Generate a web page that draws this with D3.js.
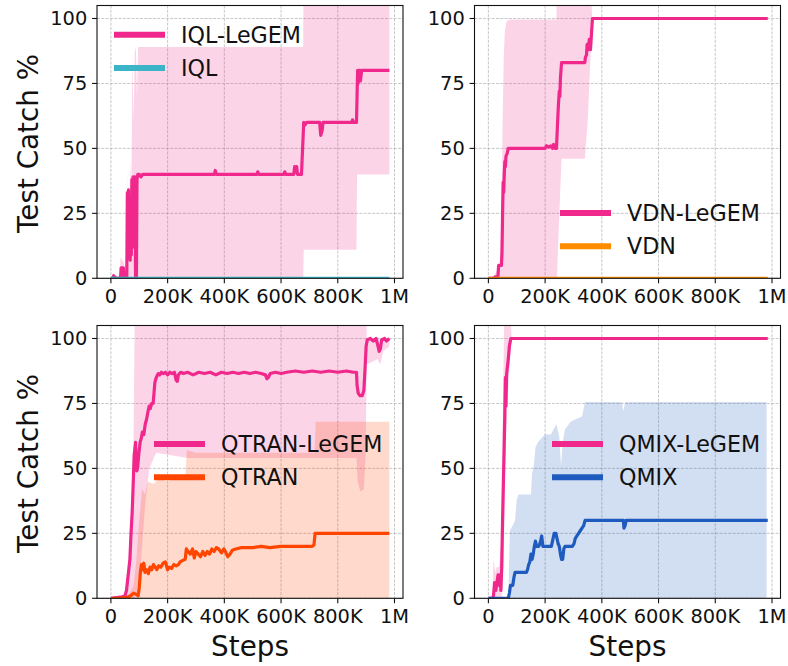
<!DOCTYPE html>
<html>
<head>
<meta charset="utf-8">
<script src="https://cdn.jsdelivr.net/npm/d3@7"></script>
<style>
  html, body { margin: 0; padding: 0; background: #fff; }
  svg { display: block; font-family: "DejaVu Sans", sans-serif; }
</style>
</head>
<body>
<svg id="chart" width="788" height="666"></svg>
<script>
// Test catch % vs. training steps, four methods with/without LeGEM.
// Steps are in thousands. Bands are [step, lower, upper].

const xTicks = [0, 200, 400, 600, 800, 1000];
const xTickLabels = ["0", "200K", "400K", "600K", "800K", "1M"];
const yTicks = [0, 25, 50, 75, 100];

// ---- IQL ----
const iqlLegemMean = [[0,0],[8,0],[10,1],[14,0.5],[18,0],[34,0],[36,4],[44,4],[46,0],[56,0],[58,33],[60,8],[62,34],[64,10],[66,30],[68,7],[70,28],[72,9],[74,38],[76,12],[78,39],[80,15],[82,39],[85,39],[87,0],[90,0],[92,38],[95,40],[100,40],[106,39],[112,40],[200,40],[365,40],[368,41.5],[372,40],[515,40],[518,41],[522,40],[610,40],[613,41],[617,40],[645,40],[648,43],[652,41],[655,43],[658,40],[672,40],[676,50],[680,60],[684,59],[690,60],[736,60],[740,55],[745,57],[748,60],[850,60],[852,61],[856,60],[866,60],[868,70],[870,80],[872,75],[874,80],[876,77],[878,80],[880,76],[884,80],[982,80]];
const iqlLegemBand = [[0,0,0.5],[8,0,2],[12,0,1],[30,0,1],[34,0,8],[46,0,6],[50,0,2],[56,0,10],[60,0,40],[64,0,20],[68,0,45],[72,0,30],[76,0,87],[80,0,60],[84,0,87],[88,0,89],[92,0,70],[96,0,89],[100,0,89],[678,0,89],[680,11,130],[866,11,130],[868,40,130],[982,40,130]];
const iqlMean = [[0,0.5],[4,0],[982,0]];

// ---- VDN ----
const vdnLegemMean = [[0,0],[20,0],[24,0.6],[30,0.5],[34,1],[36,5],[46,5],[48,10],[50,25],[52,37],[54,33],[56,40],[58,45],[60,43],[62,47],[66,48],[70,50],[76,50],[140,50],[200,50],[205,51],[212,50.5],[220,51],[226,50],[230,51.5],[235,50],[240,50],[244,60],[247,67],[250,72],[252,70],[254,77],[256,80],[258,83],[340,83],[342,85],[346,86],[348,90],[352,88],[356,92],[360,88],[364,95],[367,100],[985,100]];
const vdnLegemBand = [[0,0,0],[20,0,1],[30,0,3],[40,0,6],[46,0,20],[50,0,60],[54,0,85],[58,0,95],[64,0,99],[76,0,99.6],[240,0,99.6],[242,0,130],[245,10,130],[252,30,130],[258,46,130],[340,46,130],[350,60,130],[360,85,115],[366,100,100],[985,100,100]];
const vdnMean = [[0,0],[985,0]];

// ---- QTRAN ----
const qtranLegemMean = [[0,0],[20,0.3],[40,0.6],[50,1],[55,3],[60,8],[64,12],[67,15],[71,25],[75,33],[79,45],[82,55],[85,58],[87,60],[89,52],[91,49],[94,50],[98,55],[103,60],[108,62],[111,64],[116,63],[121,67],[126,69],[131,72],[135,74],[139,73],[144,75],[149,75],[152,79],[155,83],[160,85],[167,86.5],[172,86],[178,87],[185,86.5],[192,87],[200,86],[208,87],[216,86.5],[224,87],[230,84],[234,83.5],[238,86],[246,87],[256,86.5],[270,87],[290,86],[310,87],[330,86.5],[350,87],[370,86],[390,87],[410,86.5],[430,87],[450,86.5],[470,87],[490,86.5],[510,87],[530,86.5],[545,86],[550,84.5],[555,85],[562,86.5],[580,87],[600,86.5],[620,87],[650,87.5],[680,87],[710,87.5],[740,87],[770,87.5],[800,87],[830,87.5],[855,87],[866,87],[868,82],[872,79],[878,78],[886,78],[892,80],[896,88],[900,97],[904,99.5],[915,100],[925,99],[935,100],[942,97],[946,95],[950,96],[955,99.5],[965,100],[972,99],[982,100]];
const qtranLegemBand = [[0,0,0],[40,0,1],[55,0,4],[70,0,15],[78,0,40],[84,0,110],[100,5,130],[110,20,130],[120,35,130],[135,50,130],[160,56,130],[270,54,130],[500,54,130],[866,54,130],[870,45,130],[880,41,130],[892,42,130],[898,55,130],[902,90,100],[940,92,100],[950,90,100],[960,95,100],[982,97,100]];
const qtranMean = [[0,0],[30,0],[60,0.5],[70,1],[80,2],[90,1.5],[96,1],[100,4],[104,10],[108,13],[112,11],[116,13.5],[120,10],[126,11],[132,9.5],[138,12],[144,11],[150,13],[156,12],[162,11],[168,12.5],[176,12],[184,13.5],[192,14],[200,11],[206,12],[214,11.5],[222,13],[230,12.5],[238,13],[244,14],[252,14.5],[262,15],[266,19],[272,18],[280,17],[288,19],[294,15.5],[300,18],[308,17],[316,16],[324,18],[332,16.5],[340,18],[348,17],[356,19],[364,18],[372,19.5],[380,19],[390,17.5],[398,19],[404,18],[412,16],[420,17],[428,18.5],[440,19],[460,19.5],[480,19.5],[500,19.5],[530,20],[560,19.5],[600,20],[640,20],[680,20],[710,20],[716,20.5],[720,25],[760,25],[800,25],[850,25],[900,25],[982,25]];
const qtranBand = [[0,0,0],[60,0,1],[80,0,5],[90,0,15],[100,0,30],[110,0,42],[120,0,40],[130,0,45],[150,0,44],[170,0,46],[200,0,45],[230,0,47],[262,0,46],[268,0,57],[300,0,56],[400,0,56],[500,0,56],[600,0,56],[718,0,56],[722,0,68],[982,0,68]];

// ---- QMIX ----
const qmixLegemMean = [[0,0],[16,0],[18,1],[22,6],[26,3],[30,6],[34,9],[38,5],[42,9],[44,3],[47,12],[50,30],[53,45],[56,60],[58,72],[60,85],[62,74],[64,86],[66,88],[70,92],[74,97],[79,100],[985,100]];
const qmixLegemBand = [[0,0,0],[14,0,1],[18,0,15],[24,0,10],[30,0,12],[38,0,12],[44,0,20],[48,0,50],[52,10,80],[56,30,110],[60,55,130],[66,72,130],[72,85,120],[78,95,108],[82,100,100],[985,100,100]];
const qmixMean = [[0,0],[70,0],[74,2],[78,5],[86,5],[90,8],[94,10],[134,10],[138,11],[142,13],[146,14],[150,17],[154,15],[158,17],[162,20],[166,22],[170,20],[178,20],[184,22],[188,24],[192,20],[198,20],[206,20],[214,20],[222,20],[228,23],[232,25],[238,25],[242,23],[246,21],[250,20],[254,17],[258,15],[262,15],[266,19],[270,20],[280,20],[296,20],[302,21],[306,23],[312,24],[318,25],[324,26],[330,27],[336,28],[341,30],[400,30],[476,30],[478,27],[482,28],[486,30],[985,30]];
const qmixBand = [[0,0,0],[70,0,0],[76,0,26],[86,0,28],[94,0,30],[100,0,38],[106,0,40],[150,0,40],[154,0,48],[160,0,51],[166,0,58],[174,0,60],[190,0,62],[200,0,63],[220,0,63],[230,0,65],[240,0,67],[250,0,62],[256,0,51],[262,0,60],[270,0,65],[290,0,68],[310,0,69],[330,0,70],[341,0,75.6],[470,0,75.6],[476,0,72],[482,0,75.6],[981,0,75.6]];

const pink = "#f0288c";

const panels = [
  { left: 97, top: 5.5, ylabel: true, xlabel: false, legX: 17, legY: 29.2,
    series: [
      { name: "IQL-LeGEM", color: pink, mean: iqlLegemMean, band: iqlLegemBand },
      { name: "IQL", color: "#3ab4c6", mean: iqlMean, band: null }
    ] },
  { left: 474.5, top: 5.5, ylabel: false, xlabel: false, legX: 85.5, legY: 207.5,
    series: [
      { name: "VDN-LeGEM", color: pink, mean: vdnLegemMean, band: vdnLegemBand },
      { name: "VDN", color: "#ff8c00", mean: vdnMean, band: null }
    ] },
  { left: 97, top: 325.5, ylabel: true, xlabel: true, legX: 57, legY: 118.5,
    series: [
      { name: "QTRAN-LeGEM", color: pink, mean: qtranLegemMean, band: qtranLegemBand },
      { name: "QTRAN", color: "#ff4500", mean: qtranMean, band: qtranBand }
    ] },
  { left: 474.5, top: 325.5, ylabel: false, xlabel: true, legX: 77.5, legY: 118.5,
    series: [
      { name: "QMIX-LeGEM", color: pink, mean: qmixLegemMean, band: qmixLegemBand },
      { name: "QMIX", color: "#1f5bbf", mean: qmixMean, band: qmixBand }
    ] }
];

const pw = 306, ph = 272.8;
const svg = d3.select("#chart");

panels.forEach((p, i) => {
  const x = d3.scaleLinear().domain([-49, 1030]).range([p.left, p.left + pw]);
  const y = d3.scaleLinear().domain([0, 105]).range([p.top + ph, p.top]);

  const g = svg.append("g");

  g.append("clipPath").attr("id", `clip${i}`)
    .append("rect")
    .attr("x", p.left).attr("y", p.top)
    .attr("width", pw).attr("height", ph);

  // grid
  g.append("g").selectAll("line.vx")
    .data(xTicks).join("line")
    .attr("x1", d => x(d)).attr("x2", d => x(d))
    .attr("y1", p.top).attr("y2", p.top + ph)
    .attr("stroke", "#a8a8a8").attr("stroke-width", 0.8)
    .attr("stroke-dasharray", "3,1.3").attr("opacity", 0.8);
  g.append("g").selectAll("line.hy")
    .data(yTicks).join("line")
    .attr("x1", p.left).attr("x2", p.left + pw)
    .attr("y1", d => y(d)).attr("y2", d => y(d))
    .attr("stroke", "#a8a8a8").attr("stroke-width", 0.8)
    .attr("stroke-dasharray", "3,1.3").attr("opacity", 0.8);

  const plot = g.append("g").attr("clip-path", `url(#clip${i})`);

  const area = d3.area()
    .x(d => x(d[0]))
    .y0(d => y(d[1]))
    .y1(d => y(d[2]));
  const line = d3.line()
    .x(d => x(d[0]))
    .y(d => y(d[1]));

  p.series.forEach(s => {
    if (s.band) {
      plot.append("path")
        .datum(s.band)
        .attr("d", area)
        .attr("fill", s.color)
        .attr("fill-opacity", 0.2);
    }
  });
  p.series.forEach(s => {
    plot.append("path")
      .datum(s.mean)
      .attr("d", line)
      .attr("fill", "none")
      .attr("stroke", s.color)
      .attr("stroke-width", 3.2)
      .attr("stroke-linejoin", "round");
  });

  // frame
  g.append("rect")
    .attr("x", p.left).attr("y", p.top)
    .attr("width", pw).attr("height", ph)
    .attr("fill", "none").attr("stroke", "#111").attr("stroke-width", 1.1);

  // axes ticks
  const xAxis = g.append("g");
  xTicks.forEach((t, k) => {
    xAxis.append("line")
      .attr("x1", x(t)).attr("x2", x(t))
      .attr("y1", p.top + ph).attr("y2", p.top + ph + 4.9)
      .attr("stroke", "#111").attr("stroke-width", 1.1);
    xAxis.append("text")
      .attr("x", x(t)).attr("y", p.top + ph + 24.5)
      .attr("text-anchor", "middle")
      .attr("font-size", 19.4).attr("fill", "#111")
      .text(xTickLabels[k]);
  });
  const yAxis = g.append("g");
  yTicks.forEach(t => {
    yAxis.append("line")
      .attr("x1", p.left - 4.9).attr("x2", p.left)
      .attr("y1", y(t)).attr("y2", y(t))
      .attr("stroke", "#111").attr("stroke-width", 1.1);
    yAxis.append("text")
      .attr("x", p.left - 9.7).attr("y", y(t) + 7)
      .attr("text-anchor", "end")
      .attr("font-size", 19.4).attr("fill", "#111")
      .text(t);
  });

  if (p.ylabel) {
    g.append("text")
      .attr("transform", `translate(37.5,${p.top + ph / 2 + 1.5}) rotate(-90)`)
      .attr("text-anchor", "middle")
      .attr("font-size", 27.8).attr("fill", "#111")
      .text("Test Catch %");
  }
  if (p.xlabel) {
    g.append("text")
      .attr("x", p.left + pw / 2).attr("y", 656)
      .attr("text-anchor", "middle")
      .attr("font-size", 27.8).attr("fill", "#111")
      .text("Steps");
  }

  // legend (no frame)
  const leg = g.append("g");
  p.series.forEach((s, k) => {
    const ly = p.top + p.legY + k * 33.2;
    leg.append("line")
      .attr("x1", p.left + p.legX).attr("x2", p.left + p.legX + 51)
      .attr("y1", ly).attr("y2", ly)
      .attr("stroke", s.color).attr("stroke-width", 6);
    leg.append("text")
      .attr("x", p.left + p.legX + 67).attr("y", ly + 8)
      .attr("font-size", 22.2).attr("fill", "#111")
      .text(s.name);
  });
});
</script>
</body>
</html>
